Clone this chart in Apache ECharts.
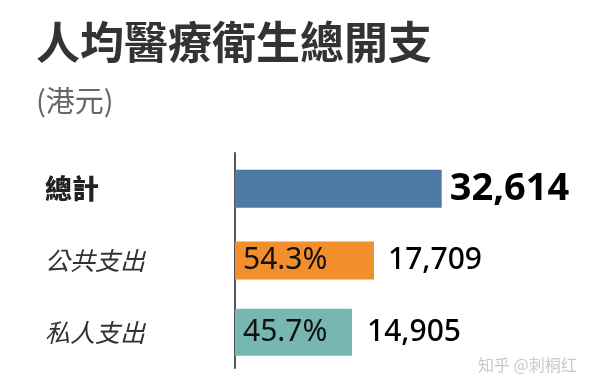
<!DOCTYPE html>
<html>
<head>
<meta charset="utf-8">
<script src="https://cdn.jsdelivr.net/npm/echarts@6/dist/echarts.min.js"></script>
<style>
html,body{margin:0;padding:0;background:#fff;}
#chart{width:608px;height:392px;}
</style>
</head>
<body>
<div id="chart"></div>
<script>
const titleText = '人均醫療衛生總開支';
const unitText = '(港元)';
const categories = ['總計', '公共支出', '私人支出'];
const totalValues = [32614, '-', '-'];
const publicValues = ['-', 17709, '-'];
const privateValues = ['-', '-', 14905];
const watermarkText = '知乎 @刺桐红';

const totalRef = 32614;
const fmtNum = v => Number(v).toLocaleString('en-US');
const fmtPct = v => (v / totalRef * 100).toFixed(1) + '%';

const numFont = '"Noto Sans", "DejaVu Sans", sans-serif';
const cjkFont = '"Noto Sans CJK TC", "Noto Sans", sans-serif';

const chart = echarts.init(document.getElementById('chart'), null, {renderer: 'canvas'});

const valueLabel = (size, weight, dist) => ({
  show: true, position: 'right', distance: dist,
  formatter: p => fmtNum(p.value),
  fontFamily: numFont, fontSize: size, fontWeight: weight, color: '#000'
});
const pctLabel = {
  show: true, position: 'insideLeft', distance: 8,
  formatter: p => fmtPct(p.value),
  fontFamily: numFont, fontSize: 30, color: '#111'
};

chart.setOption({
  animation: false,
  backgroundColor: '#fff',
  title: [
    {text: titleText, left: 36, top: 20, padding: 0,
     textStyle: {fontSize: 44, fontWeight: 'bold', color: '#333', fontFamily: cjkFont}},
    {text: unitText, left: 36, top: 86, padding: 0,
     textStyle: {fontSize: 29, fontWeight: 'normal', color: '#666', fontFamily: cjkFont}}
  ],
  grid: {left: 235, right: 43, top: 153, height: 215, containLabel: false},
  xAxis: [
    {type: 'value', min: 0, max: 42044, show: false},
    {type: 'value', min: 0, max: 52069, show: false}
  ],
  yAxis: [
    {type: 'category', data: categories, inverse: true,
     axisTick: {show: false},
     axisLine: {show: true, lineStyle: {color: '#555', width: 2}},
     axisLabel: {
       align: 'left', margin: 190,
       formatter: (v, i) => i === 0 ? '{b|' + v + '}' : '{i|' + v + '}',
       rich: {
         b: {fontFamily: cjkFont, fontSize: 27, fontWeight: 900, color: '#222'},
         i: {fontFamily: cjkFont, fontSize: 25, fontStyle: 'italic', color: '#333'}
       }
     }},
    {type: 'category', data: categories, inverse: true, show: false}
  ],
  series: [
    {name: '總計', type: 'bar', xAxisIndex: 1, yAxisIndex: 0, data: totalValues,
     barWidth: 38, barGap: '-100%', itemStyle: {color: '#4e79a7'},
     label: valueLabel(38, 'bold', 8)},
    {name: '公共支出', type: 'bar', xAxisIndex: 0, yAxisIndex: 0, data: publicValues,
     barWidth: 38, barGap: '-100%', itemStyle: {color: '#f28e2b'},
     label: valueLabel(30, 500, 14)},
    {name: '公共支出%', type: 'bar', xAxisIndex: 0, yAxisIndex: 0, data: publicValues,
     barWidth: 38, barGap: '-100%', itemStyle: {color: 'transparent'},
     label: pctLabel},
    {name: '私人支出', type: 'bar', xAxisIndex: 0, yAxisIndex: 1, data: privateValues,
     barWidth: 47, barGap: '-100%', itemStyle: {color: '#76b7b2'},
     label: valueLabel(30, 500, 15)},
    {name: '私人支出%', type: 'bar', xAxisIndex: 0, yAxisIndex: 1, data: privateValues,
     barWidth: 47, barGap: '-100%', itemStyle: {color: 'transparent'},
     label: pctLabel}
  ],
  graphic: [
    {type: 'text', left: 478, top: 357, silent: true,
     style: {text: watermarkText, fontSize: 16, fill: '#c8c8c8', fontFamily: '"Noto Sans CJK SC", sans-serif'}}
  ]
});
</script>
</body>
</html>
